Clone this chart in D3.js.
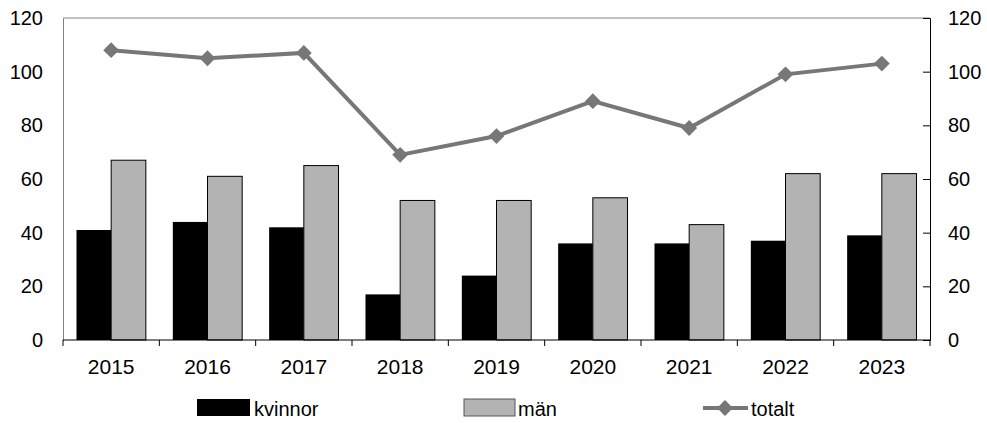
<!DOCTYPE html>
<html><head><meta charset="utf-8">
<script src="https://cdn.jsdelivr.net/npm/d3@7"></script>
<style>body{margin:0;background:#fff}svg{display:block;font-family:"Liberation Sans",Arial,sans-serif}</style>
</head><body><svg id="c" width="987" height="423"></svg>
<script>
const years = ["2015","2016","2017","2018","2019","2020","2021","2022","2023"];
const kvinnor = [41,44,42,17,24,36,36,37,39];
const man = [67,61,65,52,52,53,43,62,62];
const totalt = [108,105,107,69,76,89,79,99,103];
const yTicks = [0,20,40,60,80,100,120];

const svg = d3.select("#c");
const L=63, R=930, T=18, B=340;
const x = d3.scaleBand().domain(years).range([L,R]).paddingInner(0.28).paddingOuter(0.14);
const xb = d3.scaleBand().domain(years).range([L,R]);
const sub = d3.scaleBand().domain(["k","m"]).range([0,x.bandwidth()]);
const y = d3.scaleLinear().domain([0,120]).range([B,T]);

svg.append("line").attr("x1",L).attr("x2",R).attr("y1",T).attr("y2",T).attr("stroke","#808080").attr("stroke-width",1);

const g = svg.append("g");
years.forEach((yr,i)=>{
  g.append("rect").attr("x",x(yr)+sub("k")).attr("y",y(kvinnor[i])).attr("width",sub.bandwidth()).attr("height",B-y(kvinnor[i])).attr("fill","#000");
  g.append("rect").attr("x",x(yr)+sub("m")).attr("y",y(man[i])).attr("width",sub.bandwidth()).attr("height",B-y(man[i])).attr("fill","#b3b3b3").attr("stroke","#000").attr("stroke-width",1);
});

const fs = "20px";
const la = svg.append("g").attr("transform",`translate(${L},0)`).call(d3.axisLeft(y).tickValues(yTicks).tickSize(0).tickPadding(20));
la.select(".domain").attr("stroke","#808080");
la.selectAll("text").attr("font-size",fs).attr("font-family","Liberation Sans, Arial, sans-serif").attr("fill","#000");
const ra = svg.append("g").attr("transform",`translate(${R},0)`).call(d3.axisRight(y).tickValues(yTicks).tickSize(-7).tickPadding(18));
ra.select(".domain").attr("stroke","#000");
ra.selectAll("text").attr("font-size",fs).attr("font-family","Liberation Sans, Arial, sans-serif").attr("fill","#000");
ra.selectAll("text").attr("x",18);

const bx = svg.append("g").attr("transform",`translate(0,${B})`);
bx.append("line").attr("x1",L).attr("x2",R).attr("stroke","#000");
years.forEach(yr=>{
  bx.append("line").attr("x1",xb(yr)).attr("x2",xb(yr)).attr("y1",0).attr("y2",6).attr("stroke","#000");
  bx.append("text").attr("x",xb(yr)+xb.bandwidth()/2).attr("y",34).attr("text-anchor","middle").attr("font-size","21px").text(yr);
});
bx.append("line").attr("x1",R).attr("x2",R).attr("y1",0).attr("y2",6).attr("stroke","#000");

const cx = yr => xb(yr)+xb.bandwidth()/2;
const line = d3.line().x((d,i)=>cx(years[i])).y(d=>y(d));
svg.append("path").datum(totalt).attr("d",line).attr("fill","none").attr("stroke","#777").attr("stroke-width",4);
const diamond = d3.symbol().type(d3.symbolDiamond2).size(160);
totalt.forEach((v,i)=>{
  svg.append("path").attr("d",diamond()).attr("transform",`translate(${cx(years[i])},${y(v)})`).attr("fill","#777");
});

const lg = svg.append("g");
lg.append("rect").attr("x",197).attr("y",399).attr("width",53).attr("height",17).attr("fill","#000");
lg.append("text").attr("x",254).attr("y",416).attr("font-size",fs).text("kvinnor");
lg.append("rect").attr("x",464).attr("y",399).attr("width",51).attr("height",17).attr("fill","#b3b3b3").attr("stroke","#555");
lg.append("text").attr("x",518).attr("y",416).attr("font-size",fs).text("män");
lg.append("line").attr("x1",703).attr("x2",748).attr("y1",408).attr("y2",408).attr("stroke","#777").attr("stroke-width",4);
lg.append("path").attr("d",diamond()).attr("transform","translate(725,408)").attr("fill","#777");
lg.append("text").attr("x",751).attr("y",416).attr("font-size",fs).text("totalt");
</script></body></html>
